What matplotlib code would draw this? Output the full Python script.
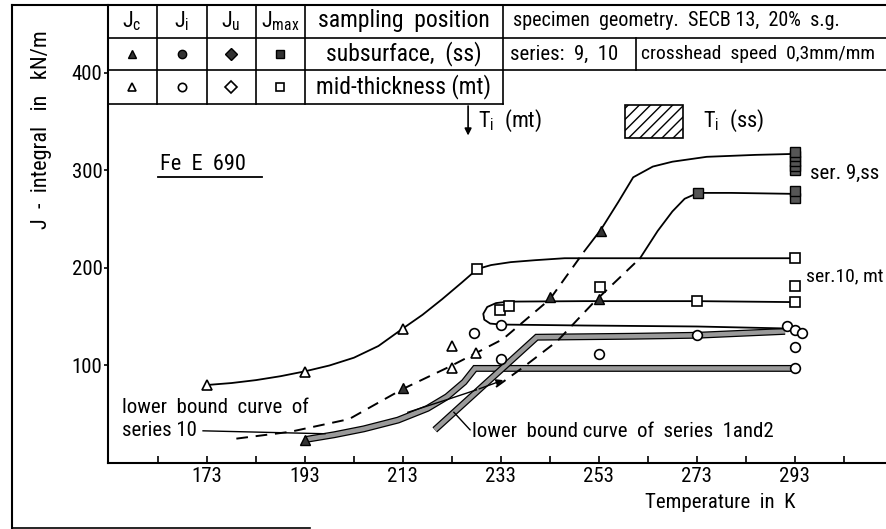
import matplotlib
matplotlib.use("Agg")
import matplotlib.pyplot as plt
import matplotlib.patheffects as pe
from matplotlib import font_manager
from matplotlib.lines import Line2D
from matplotlib.patches import Rectangle

# ---- data (T in K, J in kN/m) ----

# solid curve through the mid-thickness J_c / J_max points
mt_upper_T = [173, 178, 183, 188, 193, 198, 203, 208, 213, 217, 221, 225, 228.2, 231, 235, 240, 246, 255, 293]
mt_upper_J = [80, 82, 85, 89, 94, 100, 108, 120, 138, 152, 168, 185, 199, 203, 206, 208, 210, 210, 210]

# ser. 9, ss : dashed transition then solid upper shelf
ss_left_dash_T = [179, 190, 202, 213, 222.6, 233.4, 243, 250]
ss_left_dash_J = [25, 32, 45, 76, 99, 127, 168, 217]
ss_left_solid_T = [250, 253.5, 257, 260, 264, 268, 275, 285, 293]
ss_left_solid_J = [217, 240, 268, 293, 304, 309, 314, 316, 317]

ss_right_dash_T = [232, 237.5, 244.5, 252, 261.4]
ss_right_dash_J = [78, 98, 125, 165, 210]
ss_right_solid_T = [261.4, 265, 268, 270.5, 273.2, 280, 293]
ss_right_solid_J = [210, 238, 258, 271, 277, 277, 276]

# ser. 10, mt : the "C" shaped loop
mt_loop_T = [293, 273, 250, 234.5, 232, 230.2, 229.4, 229.6, 230.8, 233, 250, 273, 291]
mt_loop_J = [165, 166, 166, 165.5, 164, 160, 153, 147, 143, 142, 141, 140, 138]

# lower bound curve of series 10 (hatched band)
lb10_T = [193, 199, 205, 212, 218, 222, 225.5, 227.7, 260, 293]
lb10_J = [24, 29, 35, 44, 56, 68, 83, 97, 97, 97]

# lower bound curve of series 1 and 2 (hatched band)
lb12_T = [219.5, 240.3, 260, 273, 291]
lb12_J = [34, 129, 130, 131, 135]

# thin line with arrow head
thin_T = [214, 222, 228, 234]
thin_J = [52, 65, 75, 86]

# single measurements
jc_mt_T = [173, 193, 213, 223, 228, 223]
jc_mt_J = [80, 93, 137, 120, 113, 97]
jc_ss_T = [193, 213, 243, 253, 253.5]
jc_ss_J = [24, 77, 170, 168, 238]
ji_mt_T = [227.5, 233, 233, 253, 273, 293, 291.3, 293, 294.5, 293]
ji_mt_J = [133, 107, 142, 112, 131, 97, 140, 136, 133, 119]
jmax_mt_T = [228.2, 232.8, 234.6, 253.2, 273, 293, 293, 293]
jmax_mt_J = [199, 157, 161, 181, 166, 165, 182, 210]
jmax_ss_T = [273.2, 293, 293, 293, 293, 293, 293, 293]
jmax_ss_J = [277, 300, 305, 310, 315, 319, 272, 279]

x_major = [173, 193, 213, 233, 253, 273, 293]
x_minor = [163, 183, 203, 223, 243, 263, 283, 303]
y_major = [100, 200, 300, 400]


# ---- font: the scan uses a narrow DIN-like face ----
def pick_font():
    fl = font_manager.fontManager.ttflist
    for name in ["Liberation Sans Narrow", "Roboto Condensed", "Open Sans Condensed"]:
        if any(f.name == name for f in fl):
            return name, "normal", 14
    for f in fl:
        if f.name == "DejaVu Sans" and f.stretch == "condensed":
            return "DejaVu Sans", "condensed", 13
    return "Liberation Sans", "normal", 13


FONT, STRETCH, FS = pick_font()
plt.rcParams["font.family"] = FONT
plt.rcParams["font.stretch"] = STRETCH
plt.rcParams["mathtext.fontset"] = "custom"
plt.rcParams["mathtext.rm"] = FONT

W, H = 886, 529
fig = plt.figure(figsize=(W / 100, H / 100), dpi=100)


def fx(x):
    return x / W


def fy(y):
    return 1 - y / H


ax = fig.add_axes([fx(108), fy(463), 1 - fx(108), fy(5) - fy(463)])
ax.set_xlim(152.8, 311.6)
ax.set_ylim(0, 469.7)
ax.spines["top"].set_visible(False)
ax.spines["right"].set_visible(False)
ax.spines["left"].set_linewidth(1.5)
ax.spines["bottom"].set_linewidth(1.5)
ax.set_xticks(x_major)
ax.set_xticks(x_minor, minor=True)
ax.set_yticks(y_major)
ax.tick_params(axis="x", which="both", direction="in", length=5, width=1.2, labelsize=FS + 1, pad=3)
ax.tick_params(axis="y", direction="out", length=3, width=1.2, labelsize=FS + 1, pad=1)

# hatched bands
band = dict(color="#9a9a9a", lw=3.2, solid_capstyle="butt", solid_joinstyle="miter",
            path_effects=[pe.Stroke(linewidth=5, foreground="k"), pe.Normal()])
ax.plot(lb10_T, lb10_J, **band)
ax.plot(lb12_T, lb12_J, **band)

# curves
ax.plot(mt_upper_T, mt_upper_J, color="k", lw=1.3)
ax.plot(ss_left_dash_T, ss_left_dash_J, color="k", lw=1.4, ls=(0, (6, 4)))
ax.plot(ss_left_solid_T, ss_left_solid_J, color="k", lw=1.3)
ax.plot(ss_right_dash_T, ss_right_dash_J, color="k", lw=1.4, ls=(0, (6, 4)))
ax.plot(ss_right_solid_T, ss_right_solid_J, color="k", lw=1.3)
ax.plot(mt_loop_T, mt_loop_J, color="k", lw=1.3)
ax.plot(thin_T[:-1], thin_J[:-1], color="k", lw=1.0)
ax.annotate("", xy=(thin_T[-1], thin_J[-1]), xytext=(thin_T[-2], thin_J[-2]),
            arrowprops=dict(arrowstyle="-|>", color="k", lw=1.0, mutation_scale=10))

# points
ms = 7
ax.plot(jc_mt_T, jc_mt_J, "^", ms=ms, mfc="white", mec="k", mew=1.2, clip_on=False)
ax.plot(jc_ss_T, jc_ss_J, "^", ms=ms, mfc="#333333", mec="k", mew=1.0, clip_on=False)
ax.plot(ji_mt_T, ji_mt_J, "o", ms=ms, mfc="white", mec="k", mew=1.2, clip_on=False)
ax.plot(jmax_mt_T, jmax_mt_J, "s", ms=ms, mfc="white", mec="k", mew=1.2, clip_on=False)
ax.plot(jmax_ss_T, jmax_ss_J, "s", ms=ms, mfc="#555555", mec="k", mew=1.0, clip_on=False)

# annotations inside the plot
ax.text(163.4, 306, "Fe  E  690", fontsize=FS + 2, va="center", ha="left")
ax.plot([163, 184.2], [293, 293], color="k", lw=1.3)
ax.text(296, 297, "ser. 9,ss", fontsize=FS + 1, va="center", ha="left", clip_on=False)
ax.text(295.2, 191, "ser.10, mt", fontsize=FS, va="center", ha="left", clip_on=False)
ax.text(155.7, 57, "lower  bound  curve  of", fontsize=FS + 1, va="center", ha="left")
ax.text(155.7, 33, "series 10", fontsize=FS + 1, va="center", ha="left")
ax.plot([172.2, 197.1], [33, 30], color="k", lw=1.0)
ax.text(227.1, 32, "lower  bound curve  of  series  1and2", fontsize=FS + 1, va="center", ha="left")
ax.plot([223.4, 226.7], [52, 34], color="k", lw=1.0)

# transition temperature markers
ax.annotate("", xy=(226.3, 333), xytext=(226.3, 369),
            arrowprops=dict(arrowstyle="-|>", color="k", lw=1.2, mutation_scale=10),
            annotation_clip=False)
ax.text(228.4, 351, "T$_\\mathregular{i}$  (mt)", fontsize=FS + 2, va="center", ha="left")
ax.add_patch(Rectangle((258.3, 333), 11.8, 34, fill=False, hatch="///", lw=1.2, ec="k"))
ax.text(274.3, 351, "T$_\\mathregular{i}$  (ss)", fontsize=FS + 2, va="center", ha="left")

# ---- legend table drawn on the figure (pixel positions) ----


def hline(y, x0, x1, lw=1.2):
    fig.add_artist(Line2D([fx(x0), fx(x1)], [fy(y), fy(y)], color="k", lw=lw))


def vline(x, y0, y1, lw=1.2):
    fig.add_artist(Line2D([fx(x), fx(x)], [fy(y0), fy(y1)], color="k", lw=lw))


# outer frame
hline(5, 12, 886, 1.5)
vline(12, 5, 528, 1.5)
hline(528, 12, 310, 1.2)

hline(38, 108, 886)
hline(70, 108, 886)
hline(104, 108, 503)
for xc in [157, 207, 256, 305, 503]:
    vline(xc, 5, 104)
vline(636, 38, 70)

heads = ["J$_\\mathregular{c}$", "J$_\\mathregular{i}$", "J$_\\mathregular{u}$", "J$_\\mathregular{max}$"]
cols = [132, 182, 231, 280]
mk = ["^", "o", "D", "s"]
for xc, hd, m in zip(cols, heads, mk):
    fig.text(fx(xc), fy(21), hd, fontsize=FS + 2, ha="center", va="center")
    fig.add_artist(Line2D([fx(xc)], [fy(54)], marker=m, ms=6, mfc="#333333", mec="k", ls=""))
    fig.add_artist(Line2D([fx(xc)], [fy(87)], marker=m, ms=6, mfc="white", mec="k", mew=1.2, ls=""))

fig.text(fx(404), fy(21), "sampling  position", fontsize=FS + 3, ha="center", va="center")
fig.text(fx(404), fy(54), "subsurface,  (ss)", fontsize=FS + 3, ha="center", va="center")
fig.text(fx(404), fy(87), "mid-thickness (mt)", fontsize=FS + 3, ha="center", va="center")
fig.text(fx(513), fy(21), "specimen  geometry.  SECB 13,  20%  s.g.", fontsize=FS + 0.5, ha="left", va="center")
fig.text(fx(510), fy(54), "series:  9,  10", fontsize=FS + 1, ha="left", va="center")
fig.text(fx(641), fy(54), "crosshead  speed  0,3mm/mm", fontsize=FS, ha="left", va="center")

# axis titles
fig.text(fx(42), fy(130), "J  -  integral   in   kN/m", fontsize=FS + 2, rotation=90, ha="center", va="center")
fig.text(fx(720), fy(503), "Temperature  in  K", fontsize=FS + 1, ha="center", va="center")

fig.savefig("out.png", dpi=100)
